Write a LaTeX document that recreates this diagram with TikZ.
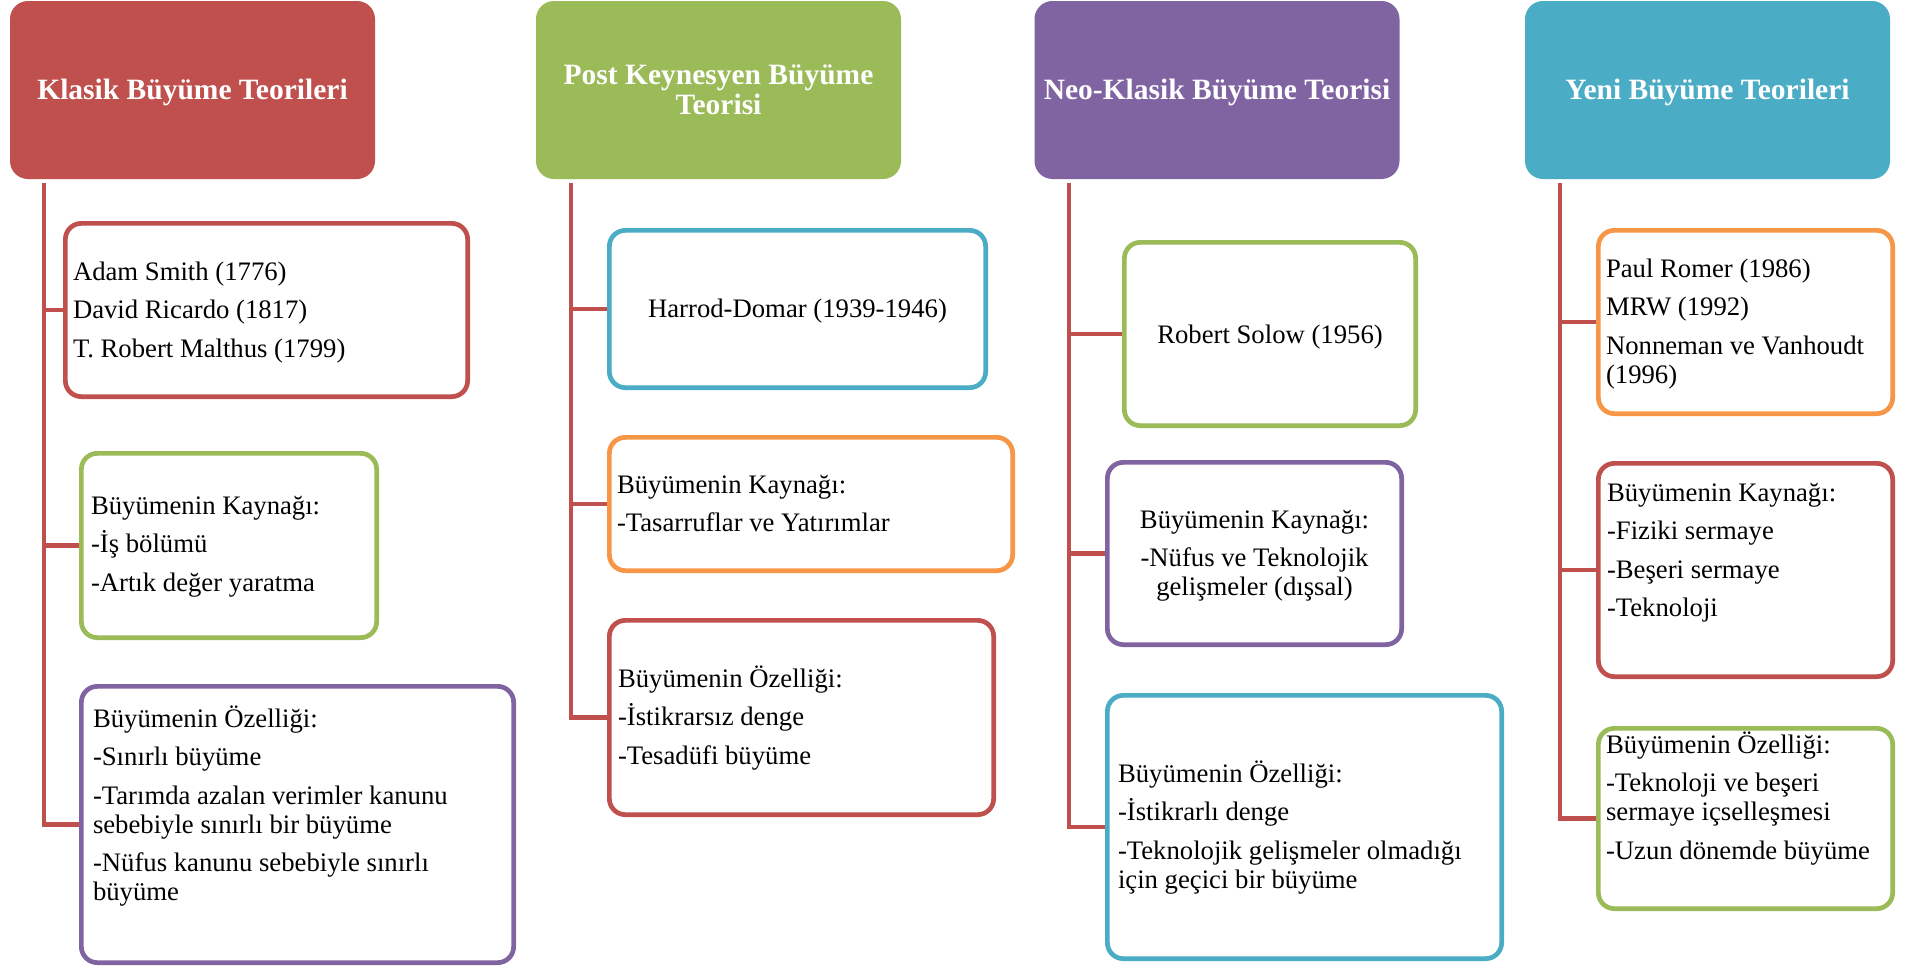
\documentclass[tikz,border=0pt]{standalone}
\usepackage{fontspec}
\setmainfont{Liberation Serif}
\definecolor{cred}{HTML}{C0504D}
\definecolor{cgreen}{HTML}{9BBB59}
\definecolor{cpurple}{HTML}{8064A2}
\definecolor{caqua}{HTML}{4BACC6}
\definecolor{corange}{HTML}{F79646}
\newcommand{\fstrut}{\rule{0pt}{25pt}}
\begin{document}
\begin{tikzpicture}[x=1pt,y=-1pt,
  header/.style={fill=#1, rounded corners=18pt, minimum width=365pt, minimum height=178pt,
    inner sep=0pt, outer sep=0pt, text=white, font=\fontsize{29.5}{30}\selectfont\bfseries, align=center},
  oneline/.style={text height=22pt, text depth=3.6pt},
  itembox/.style={draw=#1, line width=4.7pt, rounded corners=16pt, fill=white, inner sep=0pt},
  conn/.style={draw=cred, line width=4.7pt},
  txt/.style={inner sep=0pt, outer sep=0pt, align=left, anchor=north west,
    font=\fontsize{26.7}{29}\selectfont},
  ctxt/.style={txt, align=center, anchor=north},
]
\useasboundingbox (0,0) rectangle (1910,969);

% headers
\node[header=cred, oneline]    (h1) at (192.5,90) {Klasik Büyüme Teorileri};
\node[header=cgreen]           (h2) at (718.5,90) {Post Keynesyen Büyüme\\Teorisi};
\node[header=cpurple, oneline] (h3) at (1217,90)  {Neo-Klasik Büyüme Teorisi};
\node[header=caqua, oneline]   (h4) at (1707.5,90) {Yeni Büyüme Teorileri};

% trunk start points
\coordinate (v1) at (44,183);
\coordinate (v2) at (571,183);
\coordinate (v3) at (1069,183);
\coordinate (v4) at (1560,183);

% boxes
\node[itembox=cred,    minimum width=402.3pt, minimum height=173.3pt] (c1a) at (266.5,310) {};
\node[itembox=cgreen,  minimum width=295.3pt, minimum height=184.3pt] (c1b) at (229,545.5) {};
\node[itembox=cpurple, minimum width=432.3pt, minimum height=276.3pt] (c1c) at (297.5,824.5) {};

\node[itembox=caqua,   minimum width=376.3pt, minimum height=157.3pt] (c2a) at (797.5,309) {};
\node[itembox=corange, minimum width=403.3pt, minimum height=133.3pt] (c2b) at (811,504) {};
\node[itembox=cred,    minimum width=384.3pt, minimum height=194.3pt] (c2c) at (801.5,717.5) {};

\node[itembox=cgreen,  minimum width=291.3pt, minimum height=183.3pt] (c3a) at (1270,334) {};
\node[itembox=cpurple, minimum width=294.3pt, minimum height=182.3pt] (c3b) at (1254.5,553.5) {};
\node[itembox=caqua,   minimum width=394.3pt, minimum height=263.3pt] (c3c) at (1304.5,827) {};

\node[itembox=corange, minimum width=294.3pt, minimum height=183.3pt] (c4a) at (1745.5,322) {};
\node[itembox=cred,    minimum width=294.3pt, minimum height=213.3pt] (c4b) at (1745.5,570) {};
\node[itembox=cgreen,  minimum width=294.3pt, minimum height=180.3pt] (c4c) at (1745.5,818.5) {};

% connectors
\draw[conn] (v1) |- (c1c.west);
\draw[conn] (v1 |- c1a.west) -- (c1a.west);
\draw[conn] (v1 |- c1b.west) -- (c1b.west);

\draw[conn] (v2) |- (c2c.west);
\draw[conn] (v2 |- c2a.west) -- (c2a.west);
\draw[conn] (v2 |- c2b.west) -- (c2b.west);

\draw[conn] (v3) |- (c3c.west);
\draw[conn] (v3 |- c3a.west) -- (c3a.west);
\draw[conn] (v3 |- c3b.west) -- (c3b.west);

\draw[conn] (v4) |- (c4c.west);
\draw[conn] (v4 |- c4a.west) -- (c4a.west);
\draw[conn] (v4 |- c4b.west) -- (c4b.west);

% texts
\node[txt] (t1a) at (73,255) {\fstrut Adam Smith (1776)\\[9.5pt]David Ricardo (1817)\\[9.5pt]T. Robert Malthus (1799)};
\node[txt] (t1b) at (91,489) {\fstrut Büyümenin Kaynağı:\\[9.5pt]-İş bölümü\\[9.5pt]-Artık değer yaratma};
\node[txt] (t1c) at (93,702) {\fstrut Büyümenin Özelliği:\\[9.5pt]-Sınırlı büyüme\\[9.5pt]-Tarımda azalan verimler kanunu\\sebebiyle sınırlı bir büyüme\\[9.5pt]-Nüfus kanunu sebebiyle sınırlı\\büyüme};

\node[ctxt] (t2a) at (797.5,292) {\fstrut Harrod-Domar (1939-1946)};
\node[txt] (t2b) at (617,468) {\fstrut Büyümenin Kaynağı:\\[9.5pt]-Tasarruflar ve Yatırımlar};
\node[txt] (t2c) at (618,662) {\fstrut Büyümenin Özelliği:\\[9.5pt]-İstikrarsız denge\\[9.5pt]-Tesadüfi büyüme};

\node[ctxt] (t3a) at (1270,318) {\fstrut Robert Solow (1956)};
\node[ctxt] (t3b) at (1254.5,503) {\fstrut Büyümenin Kaynağı:\\[9.5pt]-Nüfus ve Teknolojik\\gelişmeler (dışsal)};
\node[txt] (t3c) at (1118,757) {\fstrut Büyümenin Özelliği:\\[9.5pt]-İstikrarlı denge\\[9.5pt]-Teknolojik gelişmeler olmadığı\\için geçici bir büyüme};

\node[txt] (t4a) at (1606,252) {\fstrut Paul Romer (1986)\\[9.5pt]MRW (1992)\\[9.5pt]Nonneman ve Vanhoudt\\(1996)};
\node[txt] (t4b) at (1607,476) {\fstrut Büyümenin Kaynağı:\\[9.5pt]-Fiziki sermaye\\[9.5pt]-Beşeri sermaye\\[9.5pt]-Teknoloji};
\node[txt] (t4c) at (1606,728) {\fstrut Büyümenin Özelliği:\\[9.5pt]-Teknoloji ve beşeri\\sermaye içselleşmesi\\[9.5pt]-Uzun dönemde büyüme};
\end{tikzpicture}
\end{document}
